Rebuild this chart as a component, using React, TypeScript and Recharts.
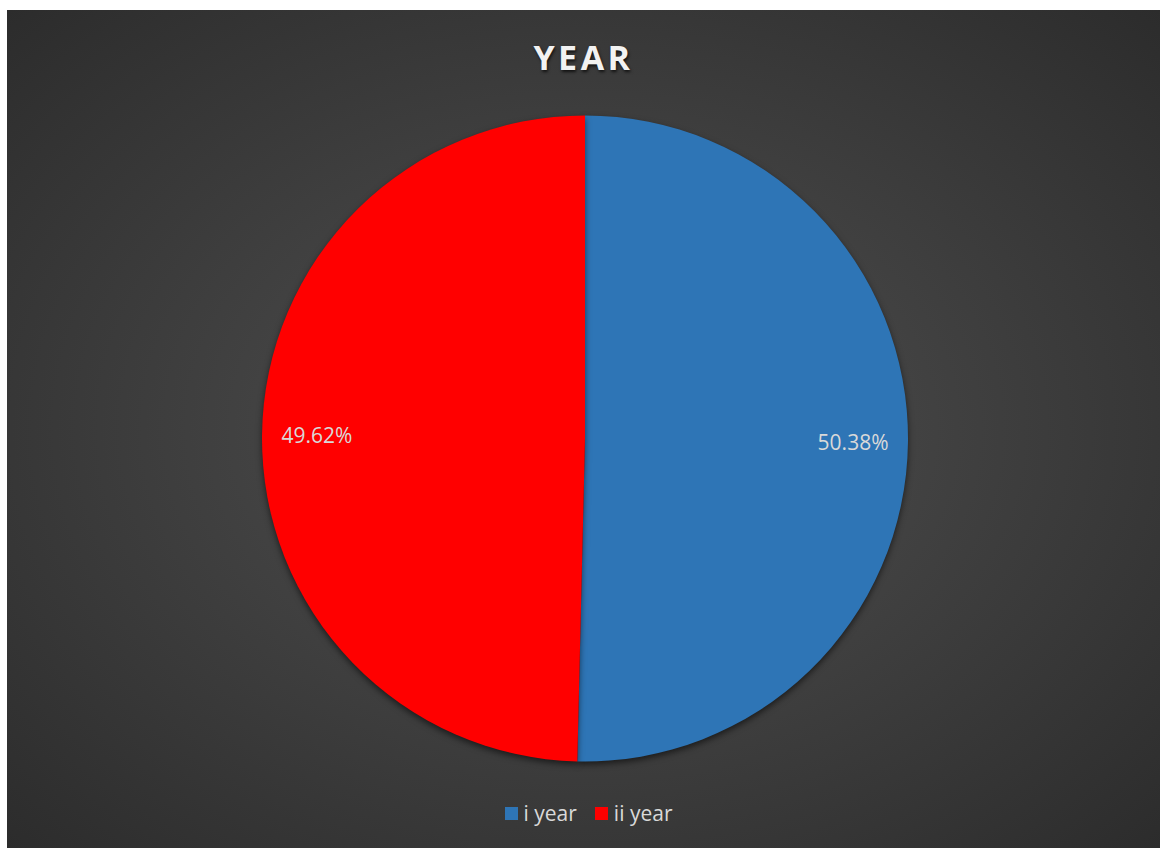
import React from "react";
import { PieChart, Pie, Cell, Legend } from "recharts";

const categories = ["i year", "ii year"];
const shares = [50.38, 49.62];
const colors = ["#2E75B6", "#FF0000"];
const chartTitle = "YEAR";

const data = categories.map((name, i) => ({ name, value: shares[i] }));

const RAD = Math.PI / 180;

const renderLabel = (props: any) => {
  const { cx, cy, midAngle, outerRadius, value } = props;
  const r = outerRadius * 0.83;
  const x = cx + r * Math.cos(-midAngle * RAD);
  const y = cy + r * Math.sin(-midAngle * RAD);
  return (
    <text
      x={x}
      y={y}
      fill="#D9D9D9"
      fontSize={21}
      fontFamily="'Open Sans', sans-serif"
      textAnchor="middle"
      dominantBaseline="central"
    >
      {value.toFixed(2)}%
    </text>
  );
};

const renderLegend = () => (
  <div
    style={{
      display: "flex",
      justifyContent: "center",
      gap: 18,
      fontFamily: "'Open Sans', sans-serif",
      fontSize: 21,
      color: "#D9D9D9",
      paddingLeft: 10,
    }}
  >
    {categories.map((c, i) => (
      <div key={c} style={{ display: "flex", alignItems: "center", gap: 6 }}>
        <span style={{ width: 13, height: 13, background: colors[i], display: "inline-block" }} />
        <span>{c}</span>
      </div>
    ))}
  </div>
);

export default function App() {
  const W = 1153;
  const H = 838;
  return (
    <div
      style={{
        position: "absolute",
        left: 7,
        top: 10,
        width: W,
        height: H,
        background: "radial-gradient(ellipse at 50% 50%, #4c4c4c 0%, #444444 35%, #2c2c2c 100%)",
        overflow: "hidden",
      }}
    >
      <div
        style={{
          position: "absolute",
          left: 0,
          width: W,
          top: 25,
          textAlign: "center",
          fontFamily: "'Open Sans', sans-serif",
          fontWeight: 700,
          fontSize: 34,
          letterSpacing: 3.5,
          color: "#F2F2F2",
          textShadow: "1px 2px 3px rgba(0,0,0,0.7)",
          lineHeight: "44px",
        }}
      >
        {chartTitle}
      </div>
      <PieChart
        width={W}
        height={H}
        margin={{ top: 0, right: 0, bottom: 0, left: 0 }}
        style={{ position: "absolute", left: 0, top: 0 }}
      >
        <Pie
          data={data}
          dataKey="value"
          nameKey="name"
          cx={578}
          cy={428.5}
          outerRadius={323}
          startAngle={90}
          endAngle={-270}
          stroke="none"
          label={renderLabel}
          labelLine={false}
          isAnimationActive={false}
        >
          {data.map((d, i) => (
            <Cell
              key={d.name}
              fill={colors[i]}
              style={{ filter: "drop-shadow(0px 3px 3px rgba(0,0,0,0.55))" }}
            />
          ))}
        </Pie>
        <Legend
          verticalAlign="bottom"
          content={renderLegend}
          wrapperStyle={{ bottom: 21, left: 0, width: W }}
        />
      </PieChart>
    </div>
  );
}
